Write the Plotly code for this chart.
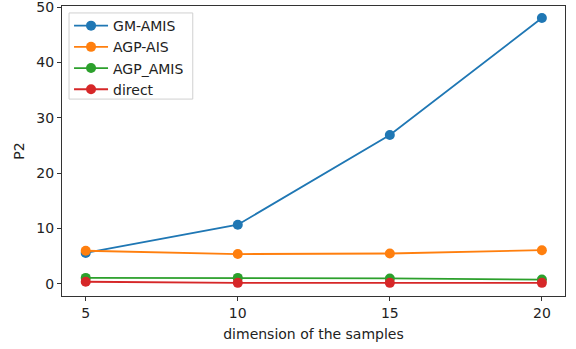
import plotly.graph_objects as go

dims = [5, 10, 15, 20]
gm_amis = [5.6, 10.7, 26.9, 48.0]
agp_ais = [6.0, 5.4, 5.5, 6.1]
agp_amis = [1.1, 1.1, 1.0, 0.8]
direct = [0.4, 0.2, 0.2, 0.2]

series = [
    ("GM-AMIS", gm_amis, "#1f77b4"),
    ("AGP-AIS", agp_ais, "#ff7f0e"),
    ("AGP_AMIS", agp_amis, "#2ca02c"),
    ("direct", direct, "#d62728"),
]

fig = go.Figure()
for name, vals, color in series:
    fig.add_trace(go.Scatter(
        x=dims, y=vals, name=name, mode="lines+markers",
        line=dict(color=color, width=1.8),
        marker=dict(color=color, size=10),
    ))

axis_common = dict(
    showgrid=False, zeroline=False, showline=True, linecolor="#333",
    linewidth=1.3, mirror=True, ticks="outside", ticklen=4, automargin=False,
    ticklabeloverflow="allow",
    tickcolor="#333", tickfont=dict(family="DejaVu Sans", size=14, color="#222"),
)

# legend frame drawn as a shape so its padding can be tight around entries
fig.add_shape(type="rect", xref="paper", yref="paper",
              x0=0.014, x1=0.260, y0=0.679, y1=0.976,
              line=dict(color="#d0d0d0", width=1),
              fillcolor="rgba(255,255,255,0.85)", layer="above")

fig.update_layout(
    width=576, height=349,
    margin=dict(l=62, r=11, t=6, b=53),
    paper_bgcolor="white", plot_bgcolor="white",
    font=dict(family="DejaVu Sans", size=14, color="#222"),
    xaxis=dict(range=[4.22, 20.76], tickvals=dims,
               title=dict(text="dimension of the samples", standoff=9,
                          font=dict(size=14)), **axis_common),
    yaxis=dict(range=[-2.17, 50.18], tickvals=[0, 10, 20, 30, 40, 50],
               title=dict(text="P2", standoff=8, font=dict(size=14)),
               **axis_common),
    legend=dict(x=0.014, y=0.986, xanchor="left", yanchor="top",
                bgcolor="rgba(0,0,0,0)", borderwidth=0,
                font=dict(size=14), itemwidth=34),
    showlegend=True,
)

fig.write_html("out.html")
